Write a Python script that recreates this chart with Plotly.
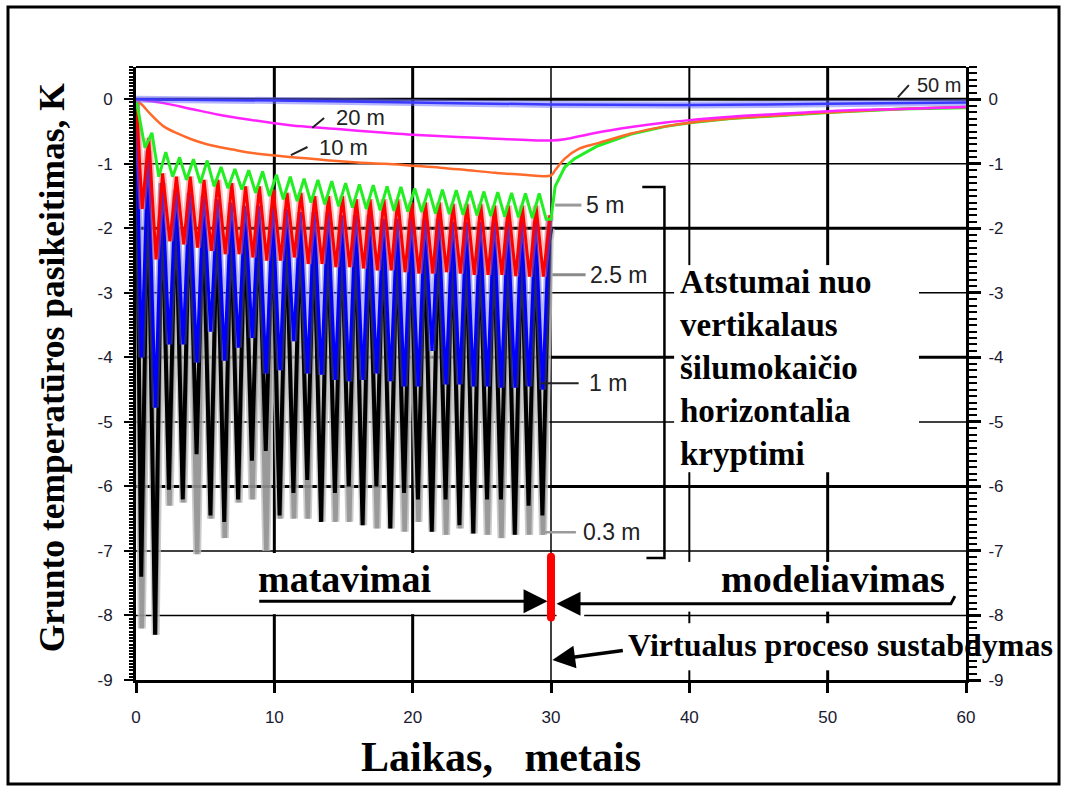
import plotly.graph_objects as go

# ---------------- data (K), one winter minimum and one summer maximum per year ----------------
years = list(range(30))

# 0.3 m from the borehole
min_03 = [-7.4, -8.3, -6.05, -6.2, -5.5, -6.45, -6.55, -6.2, -5.6, -5.45,
          -6.45, -6.1, -5.9, -6.55, -6.1, -6.0, -6.6, -6.0, -6.65, -6.1,
          -6.2, -6.7, -6.2, -6.6, -6.73, -6.2, -6.2, -6.75, -6.3, -6.45]
min_03_b = [-8.2, -8.3, -6.3, -6.25, -7.05, -6.5, -6.8, -6.25, -6.2, -7.0,
            -6.5, -6.5, -6.5, -6.55, -6.55, -6.55, -6.6, -6.65, -6.65, -6.7,
            -6.55, -6.7, -6.75, -6.65, -6.73, -6.75, -6.8, -6.75, -6.75, -6.75]
max_03 = [-1.0, -1.3, -1.5, -1.6, -1.7, -1.75, -1.8, -1.85, -1.9, -1.9,
          -1.95, -1.95, -2.0, -2.0, -2.0, -2.05, -2.05, -2.05, -2.1, -2.1,
          -2.1, -2.1, -2.1, -2.15, -2.15, -2.15, -2.15, -2.15, -2.2, -2.2]

# 1 m
min_1 = [-4.0, -4.78, -3.8, -3.8, -4.08, -3.6, -4.05, -3.85, -3.7, -4.25,
         -4.2, -3.75, -4.25, -4.27, -4.35, -4.37, -4.35, -4.25, -4.37, -4.45,
         -4.45, -3.9, -4.42, -4.42, -4.45, -4.45, -4.47, -4.47, -4.45, -4.5]
max_1 = [-0.8, -1.3, -1.4, -1.45, -1.5, -1.55, -1.6, -1.65, -1.65, -1.7,
         -1.7, -1.75, -1.75, -1.75, -1.8, -1.8, -1.8, -1.85, -1.85, -1.85,
         -1.85, -1.85, -1.9, -1.9, -1.9, -1.9, -1.9, -1.9, -1.9, -1.85]

# 2.5 m
min_25 = [-1.7, -2.48, -2.2, -2.25, -2.3, -2.35, -2.4, -2.4, -2.45, -2.5,
          -2.5, -2.45, -2.55, -2.55, -2.6, -2.6, -2.62, -2.65, -2.65, -2.68,
          -2.7, -2.7, -2.68, -2.7, -2.72, -2.72, -2.72, -2.74, -2.75, -2.75]
max_25 = [-0.6, -1.15, -1.2, -1.2, -1.25, -1.25, -1.3, -1.35, -1.35, -1.4,
          -1.45, -1.45, -1.5, -1.5, -1.5, -1.55, -1.55, -1.55, -1.55, -1.6,
          -1.6, -1.6, -1.62, -1.62, -1.62, -1.65, -1.65, -1.65, -1.65, -1.8]

# 5 m (lagging wave: trough late in the year, peak early next year)
min_5 = [-0.75, -1.2, -1.2, -1.25, -1.3, -1.35, -1.38, -1.4, -1.45, -1.5,
         -1.55, -1.58, -1.6, -1.63, -1.66, -1.68, -1.7, -1.72, -1.73, -1.74,
         -1.75, -1.77, -1.78, -1.79, -1.8, -1.81, -1.82, -1.83, -1.84, -1.86]
max_5 = [-0.52, -0.82, -0.9, -0.93, -0.95, -1.05, -1.08, -1.1, -1.12, -1.17,
         -1.2, -1.23, -1.25, -1.27, -1.3, -1.32, -1.33, -1.35, -1.36, -1.38,
         -1.39, -1.4, -1.41, -1.42, -1.43, -1.44, -1.45, -1.46, -1.46]
# recovery after the heat pump is stopped (year 30)
rec_t = [30.0, 30.3, 31.0, 31.7, 33.4, 35.8, 38.3, 40.2, 43.0, 48.0, 50.4, 55.3, 60.0]
rec_5 = [-1.86, -1.35, -1.05, -0.92, -0.72, -0.54, -0.42, -0.36, -0.3, -0.23, -0.2, -0.15, -0.13]

# 10 m
t_10 = [0, 0.5, 1, 2, 3, 4, 5, 6, 7, 8, 10, 12, 14, 16, 18, 20, 22, 24, 26, 28, 30,
        30.3, 31, 32, 33.4, 35.8, 38.3, 40.2, 43, 48, 50.4, 55.3, 60]
v_10 = [0, -0.1, -0.22, -0.42, -0.53, -0.62, -0.69, -0.74, -0.78, -0.82, -0.87, -0.91,
        -0.95, -0.98, -1.0, -1.03, -1.06, -1.1, -1.14, -1.17, -1.18,
        -1.1, -0.92, -0.77, -0.68, -0.53, -0.42, -0.36, -0.3, -0.23, -0.2, -0.15, -0.12]

# 20 m
t_20 = [0, 2, 4, 6, 8, 10, 12, 15, 18, 20, 25, 30, 31, 33, 35.8, 38.3, 40.2, 43, 48, 50.4, 55.3, 60]
v_20 = [0, -0.06, -0.15, -0.24, -0.31, -0.37, -0.42, -0.47, -0.52, -0.55, -0.6, -0.64,
        -0.62, -0.53, -0.43, -0.36, -0.32, -0.27, -0.21, -0.18, -0.15, -0.12]

# 50 m
t_50 = [0, 10, 20, 30, 40, 50, 60]
v_50 = [0, -0.02, -0.05, -0.08, -0.09, -0.07, -0.05]

# axis ticks
x_ticks = [0, 10, 20, 30, 40, 50, 60]
y_ticks = [0, -1, -2, -3, -4, -5, -6, -7, -8, -9]
y_ticktext = ["0", "-1", "-2", "-3", "-4", "-5", "-6", "-7", "-8", "-9"]

SERIF = "Liberation Serif, Times New Roman, serif"
SANS = "Liberation Sans, Arial, sans-serif"


def yearly_wave(mins, maxs, t_lo, t_hi, t_end=None, v_end=None):
    """Zig-zag through one minimum and one maximum per year, starting from 0 K."""
    t, v = [0.0], [0.0]
    for k in years:
        t.append(k + t_lo)
        v.append(mins[k])
        if k < len(maxs):
            t.append(k + t_hi)
            v.append(maxs[k])
    if t_end is not None:
        t.append(t_end)
        v.append(v_end)
    return t, v


fig = go.Figure()


def add_line(t, v, color, width, shape="linear"):
    fig.add_trace(go.Scatter(x=t, y=v, mode="lines", showlegend=False, hoverinfo="skip",
                             line=dict(color=color, width=width, shape=shape)))


# 0.3 m
t, v = yearly_wave(min_03_b, max_03, 0.42, 0.9, 30.0, -2.0)
add_line(t, v, "rgba(190,190,190,0.8)", 8)
add_line(t, v, "rgba(120,120,120,0.6)", 4.5)
t, v = yearly_wave(min_03, max_03, 0.38, 0.86, 30.0, -2.0)
add_line(t, v, "#000000", 4)
# 1 m
t, v = yearly_wave(min_1, max_1, 0.4, 0.88, 30.0, -1.9)
add_line(t, v, "rgba(90,90,230,0.42)", 7)
add_line(t, v, "#0000ff", 3)
# 2.5 m
t, v = yearly_wave(min_25, max_25, 0.45, 0.92, 30.0, -1.85)
add_line(t, v, "rgba(240,100,100,0.42)", 7)
add_line(t, v, "#ff0000", 3)
# 5 m
t, v = yearly_wave(min_5, max_5, 0.65, 1.15)
add_line(t + rec_t, v + rec_5, "#22ee22", 3)
# 10 m, 20 m, 50 m
add_line(t_10, v_10, "#ff6a2a", 2.5, "spline")
add_line(t_20, v_20, "#ff22ff", 2.5, "spline")
add_line(t_50, v_50, "rgba(110,110,255,0.5)", 7, "spline")
add_line(t_50, v_50, "#3a3aff", 2.5, "spline")

# stop marker at year 30
fig.add_trace(go.Scatter(x=[30, 30], y=[-7.09, -8.03], mode="lines+markers", showlegend=False,
                         hoverinfo="skip", line=dict(color="#ff0000", width=8),
                         marker=dict(color="#ff0000", size=8)))
# keeps the right-hand axis alive
fig.add_trace(go.Scatter(x=[0], y=[0], yaxis="y2", mode="markers", showlegend=False,
                         hoverinfo="skip", marker=dict(opacity=0)))

shapes = []


def seg(x0, y0, x1, y1, width, color="black", layer="below"):
    shapes.append(dict(type="line", xref="x", yref="y", x0=x0, y0=y0, x1=x1, y1=y1,
                       line=dict(color=color, width=width), layer=layer))


# horizontal grid segments (value, width, list of x spans)
full = [(0, 60)]
boxed = [(0, 38.9), (56.6, 60)]
h_grid = [(0, 3, full), (-1, 1.5, full), (-2, 3, full), (-3, 1.5, boxed), (-4, 3, boxed),
          (-5, 1.5, boxed), (-6, 3, full), (-7, 1.5, full), (-8, 1.5, [(0, 30.4), (32.4, 60)])]
for yv, w, spans in h_grid:
    for a, b in spans:
        seg(a, yv, b, yv, w)

# vertical grid segments (value, width, list of y spans)
v_grid = [(10, 3, [(0.5, -7.03), (-7.98, -9)]),
          (20, 3, [(0.5, -7.03), (-7.98, -9)]),
          (30, 1.5, [(0.5, -9)]),
          (40, 2, [(0.5, -2.57), (-5.78, -7.17), (-7.94, -8.12), (-8.85, -9)]),
          (50, 3, [(0.5, -2.57), (-5.78, -7.17), (-7.94, -8.12), (-8.85, -9)])]
for xv, w, spans in v_grid:
    for a, b in spans:
        seg(xv, a, xv, b, w)

# bracket grouping the near-field curves
shapes.append(dict(type="path", xref="x", yref="y", layer="above",
                   path="M 36.6,-1.36 L 38.2,-1.36 L 38.2,-7.11 L 36.9,-7.11",
                   line=dict(color="black", width=2.5)))

# leader lines of the curve labels
seg(30.3, -1.64, 32.2, -1.64, 3, "#9a9a9a", "above")
seg(30.1, -2.72, 32.5, -2.72, 3, "#8a8a8a", "above")
seg(29.3, -4.40, 32.0, -4.40, 2, "#222222", "above")
seg(29.4, -6.71, 31.8, -6.71, 2.5, "#9a9a9a", "above")
seg(12.75, -0.44, 13.6, -0.29, 2, "#222222", "above")
seg(11.2, -0.865, 12.4, -0.74, 2, "#222222", "above")
seg(55.07, 0.03, 55.87, 0.22, 2, "#222222", "above")
# small hook at the tail of the modelling arrow
seg(58.9, -7.82, 59.2, -7.7, 3, "black", "above")

# plot frame top and outer border
shapes.append(dict(type="line", xref="paper", yref="paper", x0=0, x1=1, y0=1, y1=1,
                   line=dict(color="black", width=2)))
shapes.append(dict(type="rect", xref="paper", yref="paper",
                   x0=(8 - 136) / 830, x1=(1059 - 136) / 830,
                   y0=(680 - 784) / 613, y1=(680 - 7) / 613,
                   line=dict(color="black", width=3), fillcolor="rgba(0,0,0,0)"))

annotations = []


def label(x, y, text, size, family=SANS, xanchor="left", color="#222222", bold=False):
    annotations.append(dict(x=x, y=y, xref="x", yref="y", text=text, showarrow=False,
                            xanchor=xanchor, yanchor="middle",
                            font=dict(family=family, size=size, color=color,
                                      weight="bold" if bold else "normal")))


label(32.4, -1.64, "5 m", 23)
label(32.7, -2.72, "2.5 m", 23)
label(32.6, -4.40, "1 m", 23)
label(32.2, -6.71, "0.3 m", 23)
label(14.3, -0.29, "20 m", 22)
label(13.1, -0.74, "10 m", 22)
label(56.3, 0.22, "50 m", 20)

annotations.append(dict(x=39.2, y=-4.16, xref="x", yref="y", showarrow=False,
                        xanchor="left", yanchor="middle", align="left",
                        text="Atstumai nuo<br>vertikalaus<br>šilumokaičio<br>horizontalia<br>kryptimi",
                        font=dict(family=SERIF, size=33, color="black", weight="bold")))
label(15.1, -7.44, "matavimai", 38, SERIF, "center", "black", True)
label(50.4, -7.44, "modeliavimas", 38, SERIF, "center", "black", True)
label(50.9, -8.45, "Virtualus proceso sustabdymas", 32, SERIF, "center", "black", True)

# arrows
annotations.append(dict(x=29.75, y=-7.78, ax=8.8, ay=-7.78, xref="x", yref="y",
                        axref="x", ayref="y", text="", showarrow=True, arrowhead=2,
                        arrowsize=1.6, arrowwidth=3, arrowcolor="black"))
annotations.append(dict(x=30.4, y=-7.82, ax=59.1, ay=-7.82, xref="x", yref="y",
                        axref="x", ayref="y", text="", showarrow=True, arrowhead=2,
                        arrowsize=1.6, arrowwidth=3, arrowcolor="black"))
annotations.append(dict(x=30.1, y=-8.69, ax=35.3, ay=-8.54, xref="x", yref="y",
                        axref="x", ayref="y", text="", showarrow=True, arrowhead=2,
                        arrowsize=1.3, arrowwidth=3.5, arrowcolor="black"))

# axis titles
annotations.append(dict(x=(52 - 136) / 830, y=0.51, xref="paper", yref="paper",
                        text="Grunto temperatūros pasikeitimas, K", textangle=-90,
                        showarrow=False, xanchor="center", yanchor="middle",
                        font=dict(family=SERIF, size=35.5, color="black", weight="bold")))
annotations.append(dict(x=(501 - 136) / 830, y=(680 - 757) / 613, xref="paper", yref="paper",
                        text="Laikas,\u00a0\u00a0 metais", showarrow=False,
                        xanchor="center", yanchor="middle",
                        font=dict(family=SERIF, size=42, color="black", weight="bold")))

tick_font = dict(family=SANS, size=17, color="#1a1a30")

fig.update_layout(
    width=1065, height=787,
    margin=dict(l=136, r=99, t=67, b=107),
    paper_bgcolor="white", plot_bgcolor="white",
    showlegend=False,
    shapes=shapes, annotations=annotations,
    xaxis=dict(range=[0, 60], tickvals=x_ticks, ticktext=[str(v) for v in x_ticks],
               showgrid=False, zeroline=False, showline=True, linewidth=3, linecolor="black",
               ticks="outside", ticklen=10, tickwidth=2.5, tickcolor="black",
               ticklabelstandoff=10, tickfont=tick_font),
    yaxis=dict(range=[-9, 0.5], tickvals=y_ticks, ticktext=y_ticktext,
               showgrid=False, zeroline=False, showline=True, linewidth=3, linecolor="black",
               ticks="outside", ticklen=9, tickwidth=2, tickcolor="black",
               ticklabelstandoff=8, tickfont=tick_font,
               minor=dict(dtick=0.05, ticks="outside", ticklen=4, tickwidth=1.5,
                          tickcolor="black", showgrid=False)),
    yaxis2=dict(range=[-9, 0.5], overlaying="y", side="right",
                tickvals=y_ticks, ticktext=y_ticktext,
                showgrid=False, zeroline=False, showline=True, linewidth=3, linecolor="black",
                ticks="outside", ticklen=12, tickwidth=2.5, tickcolor="black",
                ticklabelstandoff=4, tickfont=tick_font,
                minor=dict(dtick=0.1, ticks="outside", ticklen=8, tickwidth=1.5,
                           tickcolor="black", showgrid=False)),
)

fig.write_html("out.html")
